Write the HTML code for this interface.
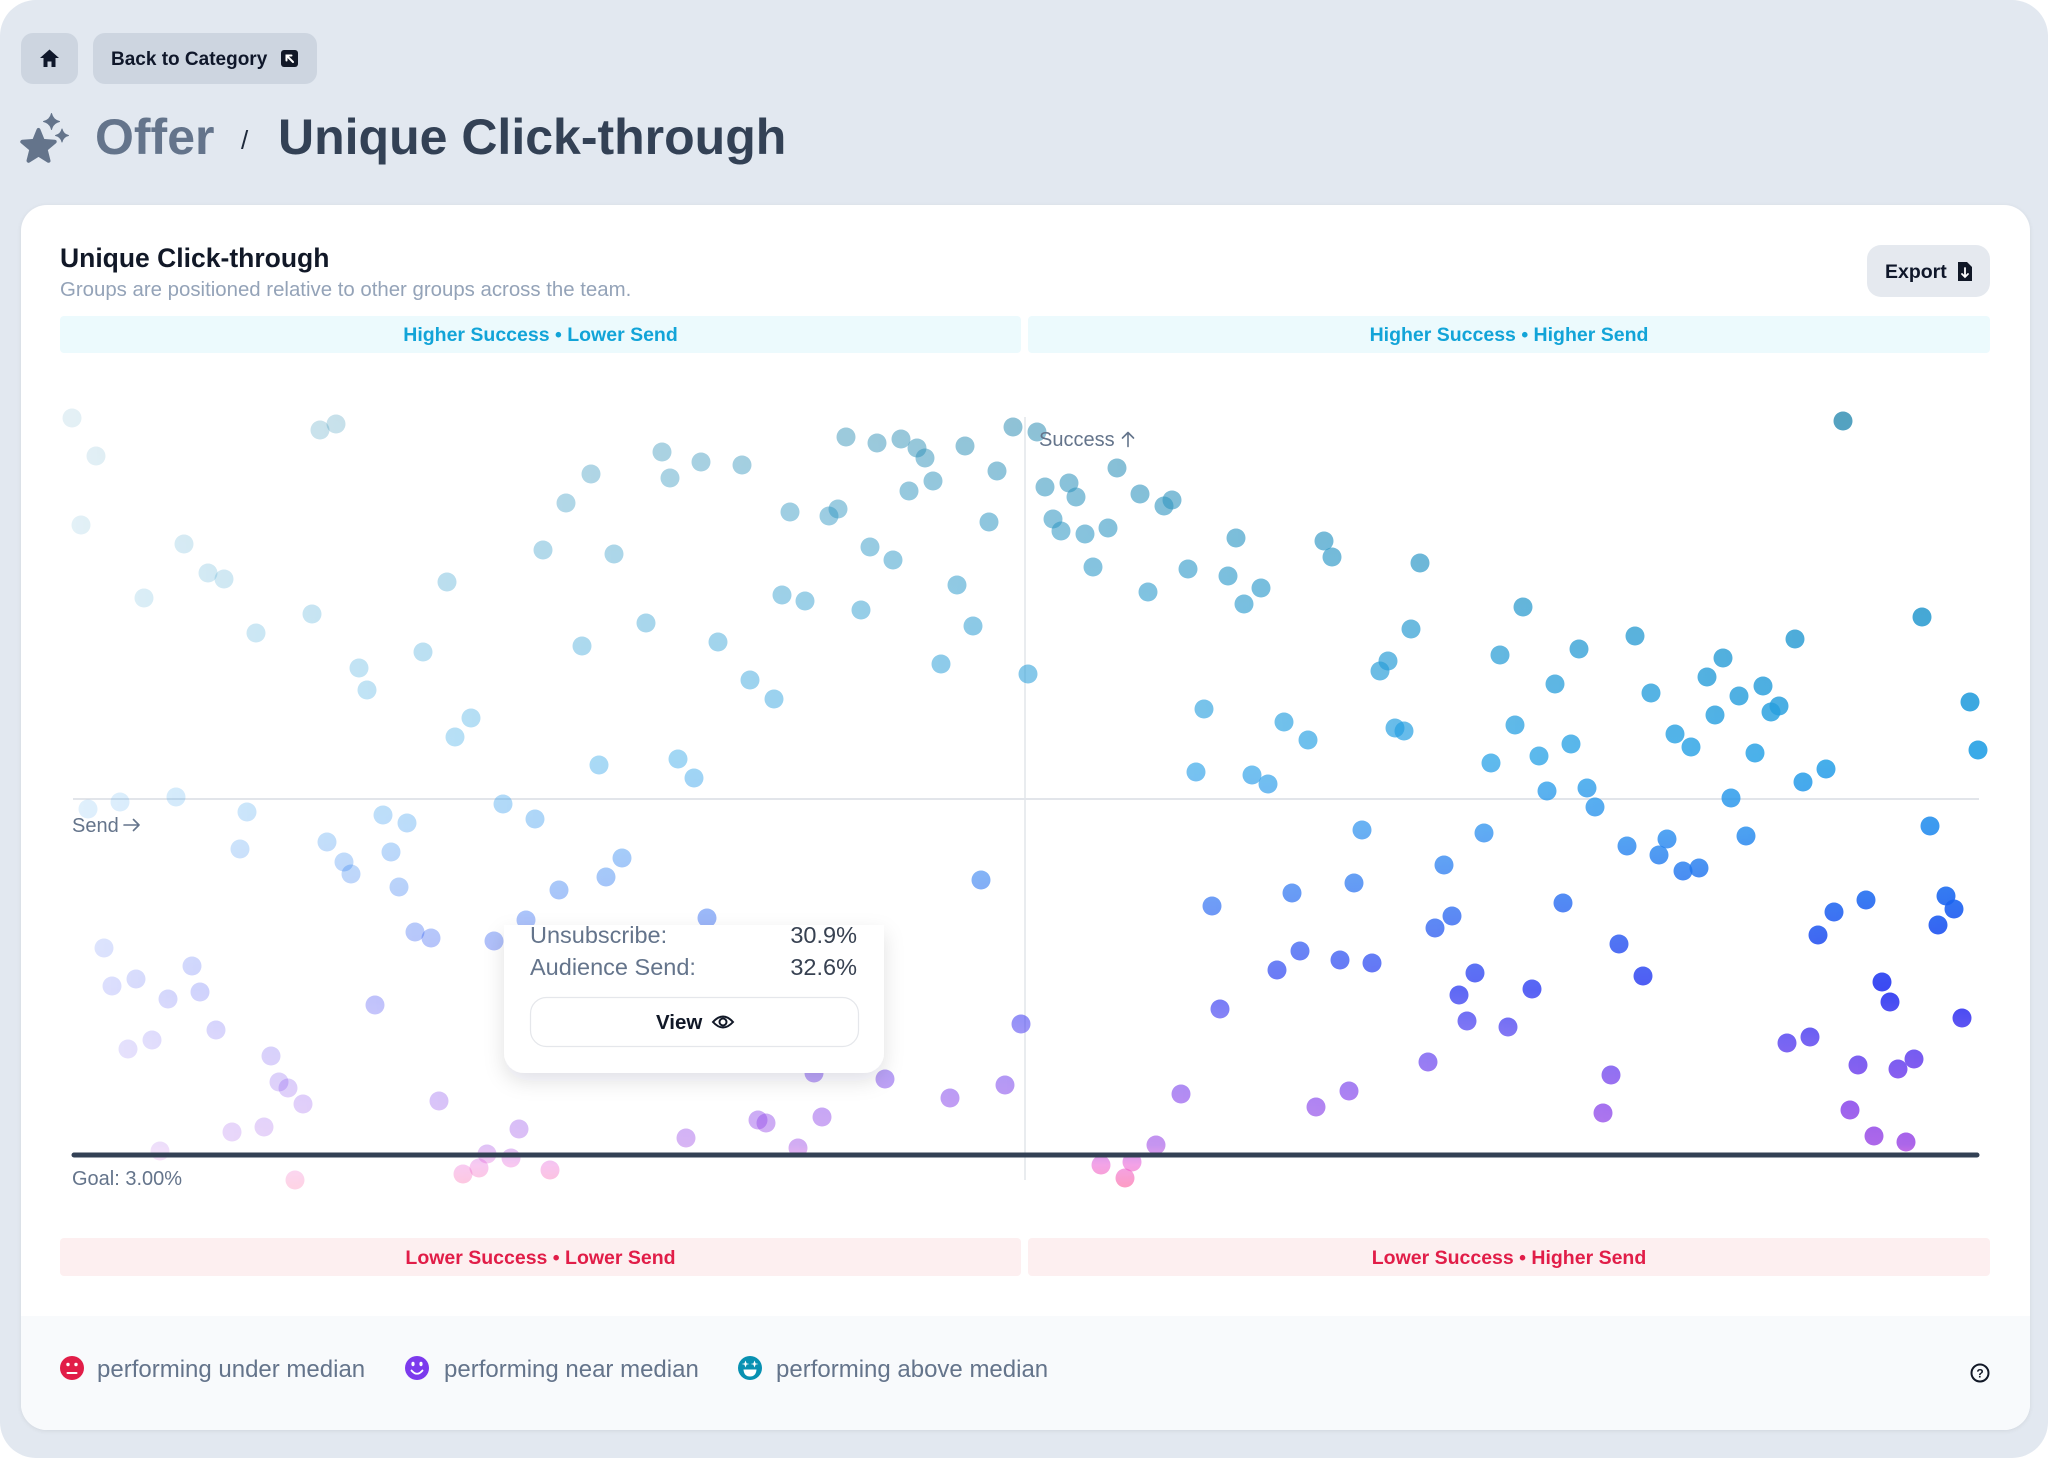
<!DOCTYPE html>
<html><head><meta charset="utf-8"><style>
html,body{margin:0;padding:0;background:#fff;width:2048px;height:1458px;overflow:hidden}
svg{position:absolute;left:0;top:0;font-family:"Liberation Sans",Arial,sans-serif}
</style></head><body>
<svg width="2048" height="1458" viewBox="0 0 2048 1458" xmlns="http://www.w3.org/2000/svg">
<defs>
<linearGradient id="vg" gradientUnits="userSpaceOnUse" x1="0" y1="410" x2="0" y2="1190">
<stop offset="0" stop-color="#3791b4"/>
<stop offset="0.2436" stop-color="#2d9bcd"/>
<stop offset="0.4487" stop-color="#23a0e6"/>
<stop offset="0.5385" stop-color="#238cee"/>
<stop offset="0.6282" stop-color="#1964f0"/>
<stop offset="0.7436" stop-color="#1e2df0"/>
<stop offset="0.8077" stop-color="#5a46f0"/>
<stop offset="0.8846" stop-color="#8746eb"/>
<stop offset="0.9423" stop-color="#a050e6"/>
<stop offset="0.9679" stop-color="#eb64d7"/>
<stop offset="0.9936" stop-color="#fa5aa0"/>
</linearGradient>
<linearGradient id="hg" gradientUnits="userSpaceOnUse" x1="60" y1="0" x2="1980" y2="0">
<stop offset="0" stop-color="#fff" stop-opacity="0.13"/>
<stop offset="0.1" stop-color="#fff" stop-opacity="0.24"/>
<stop offset="0.25" stop-color="#fff" stop-opacity="0.37"/>
<stop offset="0.5" stop-color="#fff" stop-opacity="0.56"/>
<stop offset="0.75" stop-color="#fff" stop-opacity="0.73"/>
<stop offset="1" stop-color="#fff" stop-opacity="0.9"/>
</linearGradient>
<mask id="dm" maskUnits="userSpaceOnUse" x="0" y="0" width="2048" height="1458">
<g fill="url(#hg)">
<circle cx="72" cy="418" r="9.5"/><circle cx="96" cy="456" r="9.5"/><circle cx="81" cy="525" r="9.5"/><circle cx="320" cy="430" r="9.5"/><circle cx="336" cy="424" r="9.5"/><circle cx="184" cy="544" r="9.5"/><circle cx="208" cy="573" r="9.5"/><circle cx="224" cy="579" r="9.5"/><circle cx="144" cy="598" r="9.5"/><circle cx="312" cy="614" r="9.5"/><circle cx="256" cy="633" r="9.5"/><circle cx="447" cy="582" r="9.5"/><circle cx="423" cy="652" r="9.5"/><circle cx="359" cy="668" r="9.5"/><circle cx="367" cy="690" r="9.5"/><circle cx="471" cy="718" r="9.5"/><circle cx="455" cy="737" r="9.5"/><circle cx="543" cy="550" r="9.5"/><circle cx="566" cy="503" r="9.5"/><circle cx="591" cy="474" r="9.5"/><circle cx="662" cy="452" r="9.5"/><circle cx="670" cy="478" r="9.5"/><circle cx="701" cy="462" r="9.5"/><circle cx="614" cy="554" r="9.5"/><circle cx="582" cy="646" r="9.5"/><circle cx="646" cy="623" r="9.5"/><circle cx="599" cy="765" r="9.5"/><circle cx="678" cy="759" r="9.5"/><circle cx="694" cy="778" r="9.5"/><circle cx="176" cy="797" r="9.5"/><circle cx="120" cy="802" r="9.5"/><circle cx="88" cy="809" r="9.5"/><circle cx="247" cy="812" r="9.5"/><circle cx="503" cy="804" r="9.5"/><circle cx="383" cy="815" r="9.5"/><circle cx="535" cy="819" r="9.5"/>
<circle cx="742" cy="465" r="9.5"/><circle cx="846" cy="437" r="9.5"/><circle cx="877" cy="443" r="9.5"/><circle cx="901" cy="439" r="9.5"/><circle cx="917" cy="448" r="9.5"/><circle cx="925" cy="458" r="9.5"/><circle cx="965" cy="446" r="9.5"/><circle cx="1013" cy="427" r="9.5"/><circle cx="1037" cy="432" r="9.5"/><circle cx="997" cy="471" r="9.5"/><circle cx="933" cy="481" r="9.5"/><circle cx="909" cy="491" r="9.5"/><circle cx="790" cy="512" r="9.5"/><circle cx="838" cy="509" r="9.5"/><circle cx="829" cy="516" r="9.5"/><circle cx="989" cy="522" r="9.5"/><circle cx="870" cy="547" r="9.5"/><circle cx="893" cy="560" r="9.5"/><circle cx="957" cy="585" r="9.5"/><circle cx="782" cy="595" r="9.5"/><circle cx="805" cy="601" r="9.5"/><circle cx="861" cy="610" r="9.5"/><circle cx="973" cy="626" r="9.5"/><circle cx="718" cy="642" r="9.5"/><circle cx="941" cy="664" r="9.5"/><circle cx="1028" cy="674" r="9.5"/><circle cx="750" cy="680" r="9.5"/><circle cx="774" cy="699" r="9.5"/><circle cx="1045" cy="487" r="9.5"/><circle cx="1069" cy="483" r="9.5"/><circle cx="1076" cy="497" r="9.5"/><circle cx="1117" cy="468" r="9.5"/><circle cx="1140" cy="494" r="9.5"/><circle cx="1172" cy="500" r="9.5"/><circle cx="1164" cy="506" r="9.5"/><circle cx="1053" cy="519" r="9.5"/><circle cx="1061" cy="531" r="9.5"/><circle cx="1085" cy="534" r="9.5"/><circle cx="1108" cy="528" r="9.5"/><circle cx="1093" cy="567" r="9.5"/><circle cx="1236" cy="538" r="9.5"/><circle cx="1188" cy="569" r="9.5"/><circle cx="1228" cy="576" r="9.5"/><circle cx="1261" cy="588" r="9.5"/><circle cx="1244" cy="604" r="9.5"/><circle cx="1148" cy="592" r="9.5"/><circle cx="1324" cy="541" r="9.5"/><circle cx="1332" cy="557" r="9.5"/><circle cx="1204" cy="709" r="9.5"/><circle cx="1284" cy="722" r="9.5"/><circle cx="1308" cy="740" r="9.5"/><circle cx="1196" cy="772" r="9.5"/><circle cx="1252" cy="775" r="9.5"/><circle cx="1268" cy="784" r="9.5"/>
<circle cx="1843" cy="421" r="9.5"/><circle cx="1420" cy="563" r="9.5"/><circle cx="1523" cy="607" r="9.5"/><circle cx="1411" cy="629" r="9.5"/><circle cx="1388" cy="661" r="9.5"/><circle cx="1380" cy="671" r="9.5"/><circle cx="1500" cy="655" r="9.5"/><circle cx="1579" cy="649" r="9.5"/><circle cx="1635" cy="636" r="9.5"/><circle cx="1555" cy="684" r="9.5"/><circle cx="1651" cy="693" r="9.5"/><circle cx="1795" cy="639" r="9.5"/><circle cx="1922" cy="617" r="9.5"/><circle cx="1723" cy="658" r="9.5"/><circle cx="1707" cy="677" r="9.5"/><circle cx="1763" cy="686" r="9.5"/><circle cx="1739" cy="696" r="9.5"/><circle cx="1779" cy="706" r="9.5"/><circle cx="1771" cy="712" r="9.5"/><circle cx="1715" cy="715" r="9.5"/><circle cx="1395" cy="728" r="9.5"/><circle cx="1404" cy="731" r="9.5"/><circle cx="1515" cy="725" r="9.5"/><circle cx="1571" cy="744" r="9.5"/><circle cx="1539" cy="756" r="9.5"/><circle cx="1491" cy="763" r="9.5"/><circle cx="1675" cy="734" r="9.5"/><circle cx="1691" cy="747" r="9.5"/><circle cx="1755" cy="753" r="9.5"/><circle cx="1970" cy="702" r="9.5"/><circle cx="1978" cy="750" r="9.5"/><circle cx="1826" cy="769" r="9.5"/><circle cx="1803" cy="782" r="9.5"/><circle cx="1547" cy="791" r="9.5"/><circle cx="1587" cy="788" r="9.5"/><circle cx="1731" cy="798" r="9.5"/><circle cx="1595" cy="807" r="9.5"/>
<circle cx="240" cy="849" r="9.5"/><circle cx="327" cy="842" r="9.5"/><circle cx="344" cy="862" r="9.5"/><circle cx="351" cy="874" r="9.5"/><circle cx="407" cy="823" r="9.5"/><circle cx="391" cy="852" r="9.5"/><circle cx="399" cy="887" r="9.5"/><circle cx="622" cy="858" r="9.5"/><circle cx="606" cy="877" r="9.5"/><circle cx="559" cy="890" r="9.5"/><circle cx="526" cy="920" r="9.5"/><circle cx="494" cy="941" r="9.5"/><circle cx="415" cy="932" r="9.5"/><circle cx="431" cy="938" r="9.5"/><circle cx="707" cy="918" r="9.5"/><circle cx="104" cy="948" r="9.5"/><circle cx="192" cy="966" r="9.5"/><circle cx="112" cy="986" r="9.5"/><circle cx="136" cy="979" r="9.5"/><circle cx="168" cy="999" r="9.5"/><circle cx="200" cy="992" r="9.5"/><circle cx="375" cy="1005" r="9.5"/><circle cx="216" cy="1030" r="9.5"/><circle cx="152" cy="1040" r="9.5"/><circle cx="128" cy="1049" r="9.5"/><circle cx="271" cy="1056" r="9.5"/><circle cx="279" cy="1082" r="9.5"/><circle cx="288" cy="1088" r="9.5"/><circle cx="303" cy="1104" r="9.5"/><circle cx="439" cy="1101" r="9.5"/><circle cx="264" cy="1127" r="9.5"/><circle cx="232" cy="1132" r="9.5"/><circle cx="160" cy="1151" r="9.5"/><circle cx="519" cy="1129" r="9.5"/><circle cx="686" cy="1138" r="9.5"/><circle cx="487" cy="1154" r="9.5"/><circle cx="511" cy="1158" r="9.5"/><circle cx="479" cy="1168" r="9.5"/><circle cx="463" cy="1174" r="9.5"/><circle cx="550" cy="1170" r="9.5"/><circle cx="295" cy="1180" r="9.5"/>
<circle cx="981" cy="880" r="9.5"/><circle cx="1021" cy="1024" r="9.5"/><circle cx="814" cy="1073" r="9.5"/><circle cx="885" cy="1079" r="9.5"/><circle cx="950" cy="1098" r="9.5"/><circle cx="1005" cy="1085" r="9.5"/><circle cx="758" cy="1120" r="9.5"/><circle cx="766" cy="1123" r="9.5"/><circle cx="822" cy="1117" r="9.5"/><circle cx="798" cy="1148" r="9.5"/><circle cx="1212" cy="906" r="9.5"/><circle cx="1292" cy="893" r="9.5"/><circle cx="1354" cy="883" r="9.5"/><circle cx="1300" cy="951" r="9.5"/><circle cx="1277" cy="970" r="9.5"/><circle cx="1340" cy="960" r="9.5"/><circle cx="1220" cy="1009" r="9.5"/><circle cx="1181" cy="1094" r="9.5"/><circle cx="1316" cy="1107" r="9.5"/><circle cx="1349" cy="1091" r="9.5"/><circle cx="1156" cy="1145" r="9.5"/><circle cx="1101" cy="1165" r="9.5"/><circle cx="1132" cy="1162" r="9.5"/><circle cx="1125" cy="1178" r="9.5"/>
<circle cx="1362" cy="830" r="9.5"/><circle cx="1484" cy="833" r="9.5"/><circle cx="1930" cy="826" r="9.5"/><circle cx="1746" cy="836" r="9.5"/><circle cx="1627" cy="846" r="9.5"/><circle cx="1667" cy="839" r="9.5"/><circle cx="1659" cy="855" r="9.5"/><circle cx="1683" cy="871" r="9.5"/><circle cx="1699" cy="868" r="9.5"/><circle cx="1444" cy="865" r="9.5"/><circle cx="1563" cy="903" r="9.5"/><circle cx="1452" cy="916" r="9.5"/><circle cx="1435" cy="928" r="9.5"/><circle cx="1866" cy="900" r="9.5"/><circle cx="1834" cy="912" r="9.5"/><circle cx="1818" cy="935" r="9.5"/><circle cx="1946" cy="896" r="9.5"/><circle cx="1954" cy="909" r="9.5"/><circle cx="1938" cy="925" r="9.5"/><circle cx="1619" cy="944" r="9.5"/><circle cx="1372" cy="963" r="9.5"/><circle cx="1475" cy="973" r="9.5"/><circle cx="1459" cy="995" r="9.5"/><circle cx="1532" cy="989" r="9.5"/><circle cx="1643" cy="976" r="9.5"/><circle cx="1467" cy="1021" r="9.5"/><circle cx="1508" cy="1027" r="9.5"/><circle cx="1882" cy="982" r="9.5"/><circle cx="1890" cy="1002" r="9.5"/><circle cx="1962" cy="1018" r="9.5"/><circle cx="1787" cy="1043" r="9.5"/><circle cx="1810" cy="1037" r="9.5"/><circle cx="1428" cy="1062" r="9.5"/><circle cx="1611" cy="1075" r="9.5"/><circle cx="1603" cy="1113" r="9.5"/><circle cx="1858" cy="1065" r="9.5"/><circle cx="1898" cy="1069" r="9.5"/><circle cx="1914" cy="1059" r="9.5"/><circle cx="1850" cy="1110" r="9.5"/><circle cx="1874" cy="1136" r="9.5"/><circle cx="1906" cy="1142" r="9.5"/>
</g>
</mask>
<filter id="cs" x="-5%" y="-5%" width="110%" height="110%"><feDropShadow dx="0" dy="1" stdDeviation="2" flood-color="#0f172a" flood-opacity="0.08"/></filter>
<filter id="ts" x="-20%" y="-20%" width="140%" height="160%"><feDropShadow dx="0" dy="8" stdDeviation="10" flood-color="#0f172a" flood-opacity="0.12"/></filter>
</defs>

<!-- page background -->
<rect x="0" y="0" width="2048" height="1458" rx="36" fill="#e2e8f0"/>

<!-- top nav buttons -->
<rect x="21" y="33" width="57" height="51" rx="12" fill="#cdd5e0"/>
<path d="M49.5,49.5 L40,58 H43.5 V67 H47.5 V61.5 H51.5 V67 H55.5 V58 H59 Z" fill="#0f172a"/>
<rect x="93" y="33" width="224" height="51" rx="12" fill="#cdd5e0"/>
<text x="111" y="65" font-size="19" font-weight="700" fill="#0f172a">Back to Category</text>
<rect x="281" y="50" width="17" height="17" rx="3" fill="#111827"/>
<path d="M293,62 L286.5,55.5 M286.5,60.5 V55.5 H291.5" stroke="#fff" stroke-width="2" fill="none" stroke-linecap="round"/>

<!-- title -->
<path d="M38.5,130 L42.9,140.9 L54.7,141.75 L45.6,149.3 L48.5,160.75 L38.5,154.5 L28.5,160.75 L31.4,149.3 L22.3,141.75 L34.1,140.9 Z" fill="#64748b" stroke="#64748b" stroke-width="4" stroke-linejoin="round"/>
<path d="M51.5,113.5 Q53,120 59.5,121.5 Q53,123 51.5,129.5 Q50,123 43.5,121.5 Q50,120 51.5,113.5 Z" fill="#64748b" stroke="#64748b" stroke-width="1" stroke-linejoin="round"/>
<path d="M62,129 Q63.2,134.3 68.5,135.5 Q63.2,136.7 62,142 Q60.8,136.7 55.5,135.5 Q60.8,134.3 62,129 Z" fill="#64748b" stroke="#64748b" stroke-width="1" stroke-linejoin="round"/>
<text x="95" y="154" font-size="50" font-weight="700" fill="#64748b">Offer</text>
<text x="241" y="149" font-size="26" font-weight="400" fill="#1e293b">/</text>
<text x="278" y="154" font-size="50" font-weight="700" fill="#334155">Unique Click-through</text>

<!-- card -->
<rect x="21" y="205" width="2009" height="1225" rx="26" fill="#ffffff" filter="url(#cs)"/>
<path d="M21,1316 H2030 V1404 A26,26 0 0 1 2004,1430 H47 A26,26 0 0 1 21,1404 Z" fill="#f8fafc"/>
<text x="60" y="267" font-size="26.5" font-weight="700" fill="#111827">Unique Click-through</text>
<text x="60" y="296" font-size="20.4" fill="#94a3b8">Groups are positioned relative to other groups across the team.</text>

<rect x="1867" y="245" width="123" height="52" rx="14" fill="#e5e9ef"/>
<text x="1885" y="278" font-size="19.5" font-weight="700" fill="#0f172a">Export</text>
<path d="M1958,262 H1967 L1972,267 V281 H1958 Z" fill="#111827"/>
<path d="M1965,268 V277 M1962,274 L1965,277 L1968,274" stroke="#fff" stroke-width="1.8" fill="none" stroke-linecap="round"/>

<!-- quadrant headers -->
<rect x="60" y="316" width="961" height="37" rx="4" fill="#ecfafd"/>
<rect x="1028" y="316" width="962" height="37" rx="4" fill="#ecfafd"/>
<text x="540.5" y="341" font-size="19.5" font-weight="700" fill="#12a4d8" text-anchor="middle">Higher Success • Lower Send</text>
<text x="1509" y="341" font-size="19.5" font-weight="700" fill="#12a4d8" text-anchor="middle">Higher Success • Higher Send</text>
<rect x="60" y="1238" width="961" height="38" rx="4" fill="#fdeff0"/>
<rect x="1028" y="1238" width="962" height="38" rx="4" fill="#fdeff0"/>
<text x="540.5" y="1264" font-size="19.5" font-weight="700" fill="#e11d48" text-anchor="middle">Lower Success • Lower Send</text>
<text x="1509" y="1264" font-size="19.5" font-weight="700" fill="#e11d48" text-anchor="middle">Lower Success • Higher Send</text>

<!-- axes -->
<line x1="1025" y1="417" x2="1025" y2="1180" stroke="#e2e5ea" stroke-width="1.5"/>
<line x1="73" y1="799" x2="1979" y2="799" stroke="#e2e5ea" stroke-width="2"/>

<!-- dots -->
<rect x="50" y="395" width="1960" height="805" fill="url(#vg)" mask="url(#dm)"/>

<!-- goal line -->
<line x1="74" y1="1155" x2="1977" y2="1155" stroke="#334155" stroke-width="5" stroke-linecap="round"/>

<text x="1039" y="446" font-size="20" fill="#64748b">Success</text>
<path d="M1128,446.5 V432.5 M1122.5,438 L1128,432.5 L1133.5,438" stroke="#64748b" stroke-width="1.6" fill="none" stroke-linecap="round" stroke-linejoin="round"/>
<text x="72" y="832" font-size="20" fill="#64748b">Send</text>
<path d="M124,825 H139 M133.5,819.5 L139,825 L133.5,830.5" stroke="#64748b" stroke-width="1.6" fill="none" stroke-linecap="round" stroke-linejoin="round"/>
<text x="72" y="1185" font-size="20" fill="#64748b">Goal: 3.00%</text>

<!-- tooltip -->
<path d="M504,925 H884 V1053 A20,20 0 0 1 864,1073 H524 A20,20 0 0 1 504,1053 Z" fill="#ffffff" filter="url(#ts)"/>
<text x="530" y="943" font-size="23.5" fill="#64748b">Unsubscribe:</text>
<text x="857" y="943" font-size="23.5" fill="#374151" text-anchor="end">30.9%</text>
<text x="530" y="975" font-size="23.5" fill="#64748b">Audience Send:</text>
<text x="857" y="975" font-size="23.5" fill="#374151" text-anchor="end">32.6%</text>
<rect x="530.5" y="997.5" width="328" height="49" rx="16" fill="#ffffff" stroke="#e5e7eb" stroke-width="1.2"/>
<text x="656" y="1029" font-size="20.5" font-weight="700" fill="#111827">View</text>
<path d="M713,1022 Q723,1011 733,1022 Q723,1033 713,1022 Z" stroke="#111827" stroke-width="2" fill="none"/>
<circle cx="723" cy="1022" r="3.5" stroke="#111827" stroke-width="2" fill="none"/>

<!-- legend -->
<circle cx="72" cy="1368" r="12" fill="#e11d48"/>
<circle cx="68" cy="1364.5" r="1.7" fill="#fff"/><circle cx="76" cy="1364.5" r="1.7" fill="#fff"/>
<line x1="67.5" y1="1373" x2="76.5" y2="1373" stroke="#fff" stroke-width="2" stroke-linecap="round"/>
<text x="97" y="1377" font-size="24" fill="#64748b">performing under median</text>

<circle cx="417" cy="1368" r="12" fill="#7c3aed"/>
<ellipse cx="413" cy="1364" rx="1.6" ry="2.2" fill="#fff"/><ellipse cx="421" cy="1364" rx="1.6" ry="2.2" fill="#fff"/>
<path d="M411.5,1370.5 Q417,1377 422.5,1370.5" stroke="#fff" stroke-width="1.8" fill="none" stroke-linecap="round"/>
<text x="444" y="1377" font-size="24" fill="#64748b">performing near median</text>

<circle cx="750" cy="1368" r="12" fill="#0891b2"/>
<path d="M745.5,1360.5 L746.6,1363.4 L749.5,1364 L746.6,1364.6 L745.5,1367.5 L744.4,1364.6 L741.5,1364 L744.4,1363.4 Z" fill="#fff"/>
<path d="M754.5,1360.5 L755.6,1363.4 L758.5,1364 L755.6,1364.6 L754.5,1367.5 L753.4,1364.6 L750.5,1364 L753.4,1363.4 Z" fill="#fff"/>
<path d="M743.5,1369.5 H756.5 Q756,1376.5 750,1376.5 Q744,1376.5 743.5,1369.5 Z" fill="#fff"/>
<text x="776" y="1377" font-size="24" fill="#64748b">performing above median</text>

<circle cx="1980" cy="1373" r="8.5" fill="none" stroke="#111827" stroke-width="2"/>
<text x="1980" y="1377.5" font-size="12" font-weight="700" fill="#111827" text-anchor="middle">?</text>
</svg>
</body></html>
